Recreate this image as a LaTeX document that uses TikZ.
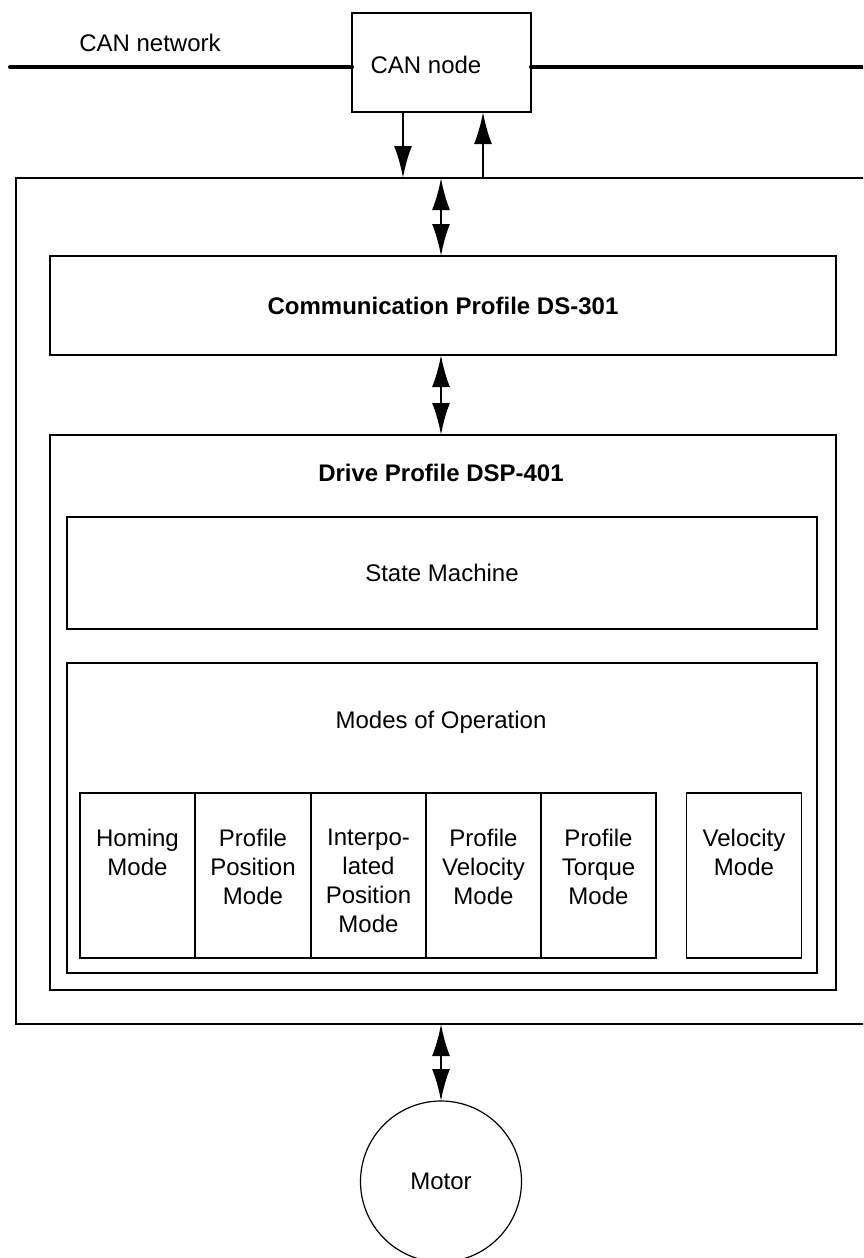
\documentclass[tikz,border=0pt]{standalone}
\usepackage{fontspec}
\setmainfont{Liberation Sans}
\usetikzlibrary{arrows.meta}
\begin{document}
\begin{tikzpicture}[x=0.5pt,y=-0.5pt,
  every node/.style={font=\fontsize{12}{14.5}\selectfont, inner sep=0pt, outer sep=0pt},
  frame/.style={draw, line width=0.6pt, rectangle},
  modebox/.style={frame, minimum width=57.5pt, minimum height=82.5pt},
  modetext/.style={anchor=north, align=center},
  arr/.style={line width=1.2pt, -{Latex[length=16pt,width=9pt]}},
  darr/.style={line width=1.2pt, {Latex[length=16pt,width=9pt]}-{Latex[length=16pt,width=9pt]}},
  bus/.style={line width=2pt, line cap=round}]
\useasboundingbox (0,0) rectangle (863,1258);
\clip (0,0) rectangle (863,1258);

% CAN bus and node
\node[frame, minimum width=89.5pt, minimum height=49.5pt] (can) at (441.5,62.5) {};
\node (cantext) at (426,65) {CAN node};
\node (nettext) at (150,43) {CAN network};
\coordinate (busL) at (10,67);
\coordinate (busR) at (866,67);
\draw[bus] (busL) -- (busL -| can.west);
\draw[bus] (can.east |- busR) -- (busR);

% device frame (right side runs off the page)
\node[frame, minimum width=427pt, minimum height=423pt] (dev) at (443,601) {};

% profiles
\node[frame, minimum width=393pt, minimum height=49.5pt] (comm) at (443,305.5)
  {\bfseries Communication Profile DS-301};
\node[frame, minimum width=393pt, minimum height=277.5pt] (drive) at (443,712.5) {};
\node[font=\fontsize{12}{14.5}\selectfont\bfseries] (drivetext) at (441,473) {Drive Profile DSP-401};
\node[frame, minimum width=375pt, minimum height=56pt] (state) at (442,573) {State Machine};
\node[frame, minimum width=375pt, minimum height=155pt] (modes) at (442,818) {};
\node (modestext) at (441,722) {Modes of Operation};

% operating modes
\node[modebox] (m1) at (137.5,875.5) {};
\node[modebox] (m2) at (253,875.5) {};
\node[modebox] (m3) at (368.5,875.5) {};
\node[modebox] (m4) at (483.5,875.5) {};
\node[modebox] (m5) at (598.5,875.5) {};
\node[modebox] (m6) at (744,875.5) {};
\node[modetext] (t1) at (137.5,829) {Homing\\Mode};
\node[modetext] (t2) at (253,829) {Profile\\Position\\Mode};
\node[modetext] (t3) at (368.5,829) {Interpo-\\lated\\Position\\Mode};
\node[modetext] (t4) at (483.5,829) {Profile\\Velocity\\Mode};
\node[modetext] (t5) at (598.5,829) {Profile\\Torque\\Mode};
\node[modetext] (t6) at (744,829) {Velocity\\Mode};

% motor
\node[draw, line width=0.6pt, circle, minimum size=80.5pt] (motor) at (441,1181.5) {Motor};

% data flow
\coordinate (xdn) at (403,0);
\coordinate (xup) at (483,0);
\coordinate (xmid) at (441,0);
\draw[arr] (can.south -| xdn) -- (dev.north -| xdn);
\draw[arr] (dev.north -| xup) -- (can.south -| xup);
\draw[darr] (dev.north -| xmid) -- (comm.north -| xmid);
\draw[darr] (comm.south -| xmid) -- (drive.north -| xmid);
\draw[darr] (dev.south -| xmid) -- (motor.north);
\end{tikzpicture}
\end{document}
